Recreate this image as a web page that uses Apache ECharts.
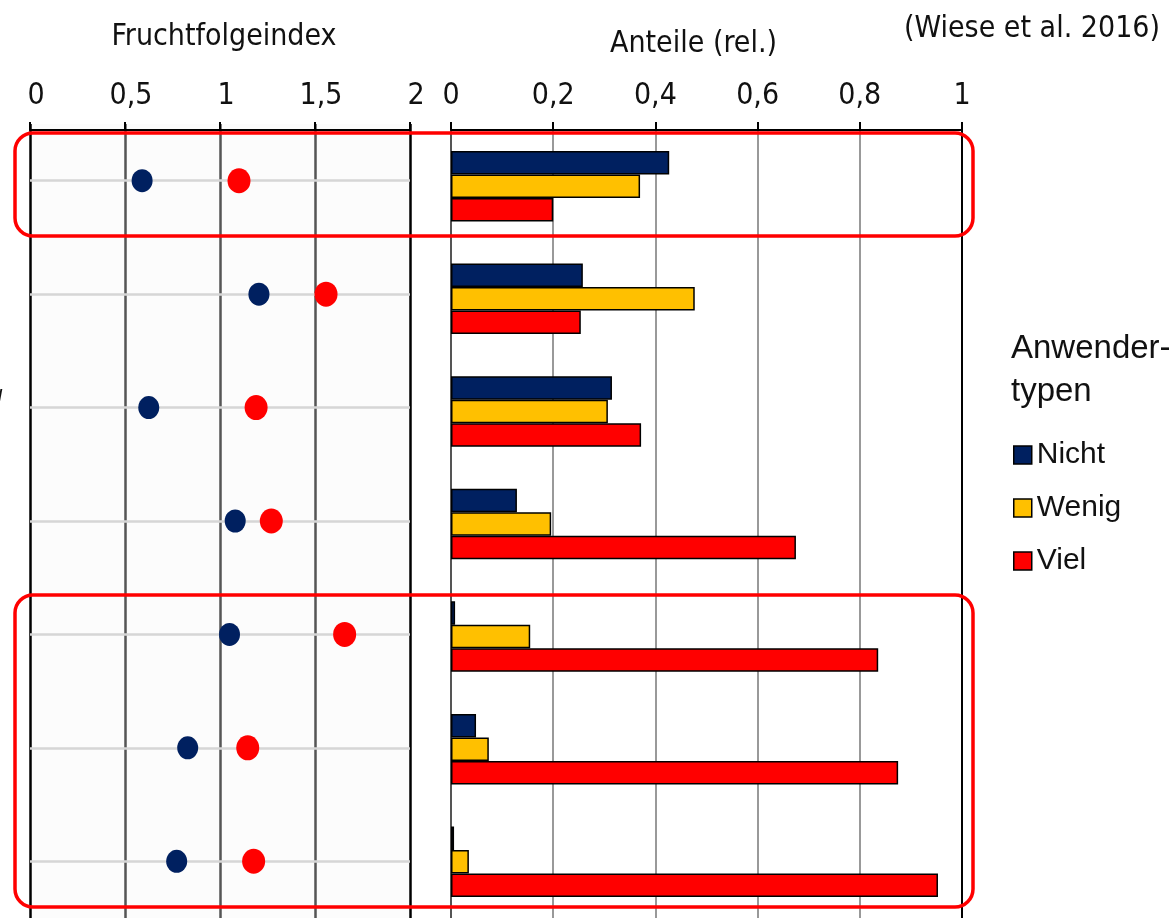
<!DOCTYPE html>
<html><head><meta charset="utf-8">
<script src="https://cdn.jsdelivr.net/npm/echarts@6/dist/echarts.min.js"></script>
<style>html,body{margin:0;padding:0;background:#fff}#c{width:1175px;height:918px}</style>
</head><body><div id="c"></div>
<script>
const categories = ['Gruppe 1','Gruppe 2','Gruppe 3','Gruppe 4','Gruppe 5','Gruppe 6','Gruppe 7'];
const seriesNames = ['Nicht','Wenig','Viel'];
const fruchtNicht = [0.59, 1.205, 0.625, 1.08, 1.05, 0.83, 0.772];
const fruchtViel  = [1.10, 1.558, 1.19, 1.27, 1.656, 1.146, 1.177];
const anteilNicht = [0.427, 0.258, 0.315, 0.129, 0.008, 0.049, 0.006];
const anteilWenig = [0.37, 0.477, 0.307, 0.196, 0.155, 0.074, 0.035];
const anteilViel  = [0.20, 0.254, 0.372, 0.675, 0.836, 0.875, 0.953];

const NARROW = '"Liberation Sans Narrow", "DejaVu Sans Condensed", sans-serif';
const ARIAL = '"Liberation Sans", Arial, sans-serif';
const colNicht = '#002060', colWenig = '#ffc000', colViel = '#ff0000';
const comma = v => String(v).replace('.', ',');

const chart = echarts.init(document.getElementById('c'), null, {renderer: 'canvas'});
chart.setOption({
  animation: false,
  backgroundColor: '#ffffff',
  title: [
    {text: '(Wiese et al. 2016)', right: 10, top: 9,
     textStyle: {fontFamily: NARROW, fontSize: 30, fontWeight: 'normal', color: '#111'}},
    {text: 'Anwender-\ntypen', left: 1006, top: 322,
     textStyle: {fontFamily: ARIAL, fontSize: 33, fontWeight: 'normal', color: '#111', lineHeight: 43}}
  ],
  legend: {
    data: seriesNames, orient: 'vertical', left: 1008, top: 435,
    itemWidth: 18, itemHeight: 18, itemGap: 23, icon: 'rect',
    itemStyle: {borderColor: '#000', borderWidth: 1.5},
    textStyle: {fontFamily: ARIAL, fontSize: 30, color: '#111'}
  },
  grid: [
    {left: 30, width: 380, top: 124, height: 803, backgroundColor: '#fcfcfc', show: true, borderWidth: 0},
    {left: 451, width: 511, top: 130, height: 791}
  ],
  xAxis: [
    {gridIndex: 0, type: 'value', position: 'top', min: 0, max: 2, interval: 0.5, offset: -6,
     name: 'Fruchtfolgeindex', nameLocation: 'middle', nameGap: 78,
     nameTextStyle: {fontFamily: NARROW, fontSize: 30, color: '#111', padding: [0,0,0,8]},
     axisLine: {show: true, lineStyle: {color: '#000', width: 2}},
     axisTick: {show: true, length: 8, lineStyle: {color: '#000', width: 2}},
     axisLabel: {formatter: comma, fontFamily: NARROW, fontSize: 30, color: '#111', margin: 19, padding: [0,0,0,12]},
     splitLine: {show: true, lineStyle: {color: ['#000','#555','#555','#555','#000'], width: 2.5}}},
    {gridIndex: 1, type: 'value', position: 'top', min: 0, max: 1, interval: 0.2,
     name: 'Anteile (rel.)', nameLocation: 'middle', nameGap: 71,
     nameTextStyle: {fontFamily: NARROW, fontSize: 30, color: '#111', padding: [0,26,0,0]},
     axisLine: {show: true, lineStyle: {color: '#000', width: 2}},
     axisTick: {show: true, length: 8, lineStyle: {color: '#000', width: 2}},
     axisLabel: {formatter: comma, fontFamily: NARROW, fontSize: 30, color: '#111', margin: 19},
     splitLine: {show: true, lineStyle: {color: ['#555','#999','#999','#999','#999','#000'], width: 2}}}
  ],
  yAxis: [
    {gridIndex: 0, type: 'category', data: categories, inverse: true, show: false},
    {gridIndex: 1, type: 'category', data: categories, inverse: true, show: false}
  ],
  series: [
    {name: 'Nicht', type: 'bar', xAxisIndex: 1, yAxisIndex: 1, data: anteilNicht,
     barWidth: 23.5, barGap: '0%', itemStyle: {color: colNicht, borderColor: '#000', borderWidth: 1.5}},
    {name: 'Wenig', type: 'bar', xAxisIndex: 1, yAxisIndex: 1, data: anteilWenig,
     barWidth: 23.5, barGap: '0%', itemStyle: {color: colWenig, borderColor: '#000', borderWidth: 1.5}},
    {name: 'Viel', type: 'bar', xAxisIndex: 1, yAxisIndex: 1, data: anteilViel,
     barWidth: 23.5, barGap: '0%', itemStyle: {color: colViel, borderColor: '#000', borderWidth: 1.5}},
    {name: 'Linien', type: 'scatter', xAxisIndex: 0, yAxisIndex: 0, data: [], z: 1, silent: true,
     markLine: {silent: true, z: 1, symbol: 'none', label: {show: false},
       lineStyle: {color: '#d6d6d6', width: 2.5, type: 'solid'},
       data: categories.map(c => ({yAxis: c}))}},
    {name: 'Nicht', type: 'scatter', xAxisIndex: 0, yAxisIndex: 0, z: 6, symbolSize: [21, 23],
     itemStyle: {color: colNicht, opacity: 1},
     data: fruchtNicht.map((v, i) => [v, categories[i]])},
    {name: 'Viel', type: 'scatter', xAxisIndex: 0, yAxisIndex: 0, z: 6, symbolSize: [23, 25],
     itemStyle: {color: colViel, opacity: 1},
     data: fruchtViel.map((v, i) => [v, categories[i]])}
  ],
  graphic: [
    {type: 'rect', z: 100, shape: {x: 15, y: 133, width: 958, height: 103, r: 18},
     style: {fill: null, stroke: '#ff0000', lineWidth: 3.5}},
    {type: 'rect', z: 100, shape: {x: 15, y: 595, width: 958, height: 312, r: 18},
     style: {fill: null, stroke: '#ff0000', lineWidth: 3.5}},
    {type: 'text', left: -2, top: 389, style: {text: '/', fontSize: 16, fontFamily: ARIAL, fill: '#111', fontWeight: 'bold'}}
  ]
});
</script></body></html>
